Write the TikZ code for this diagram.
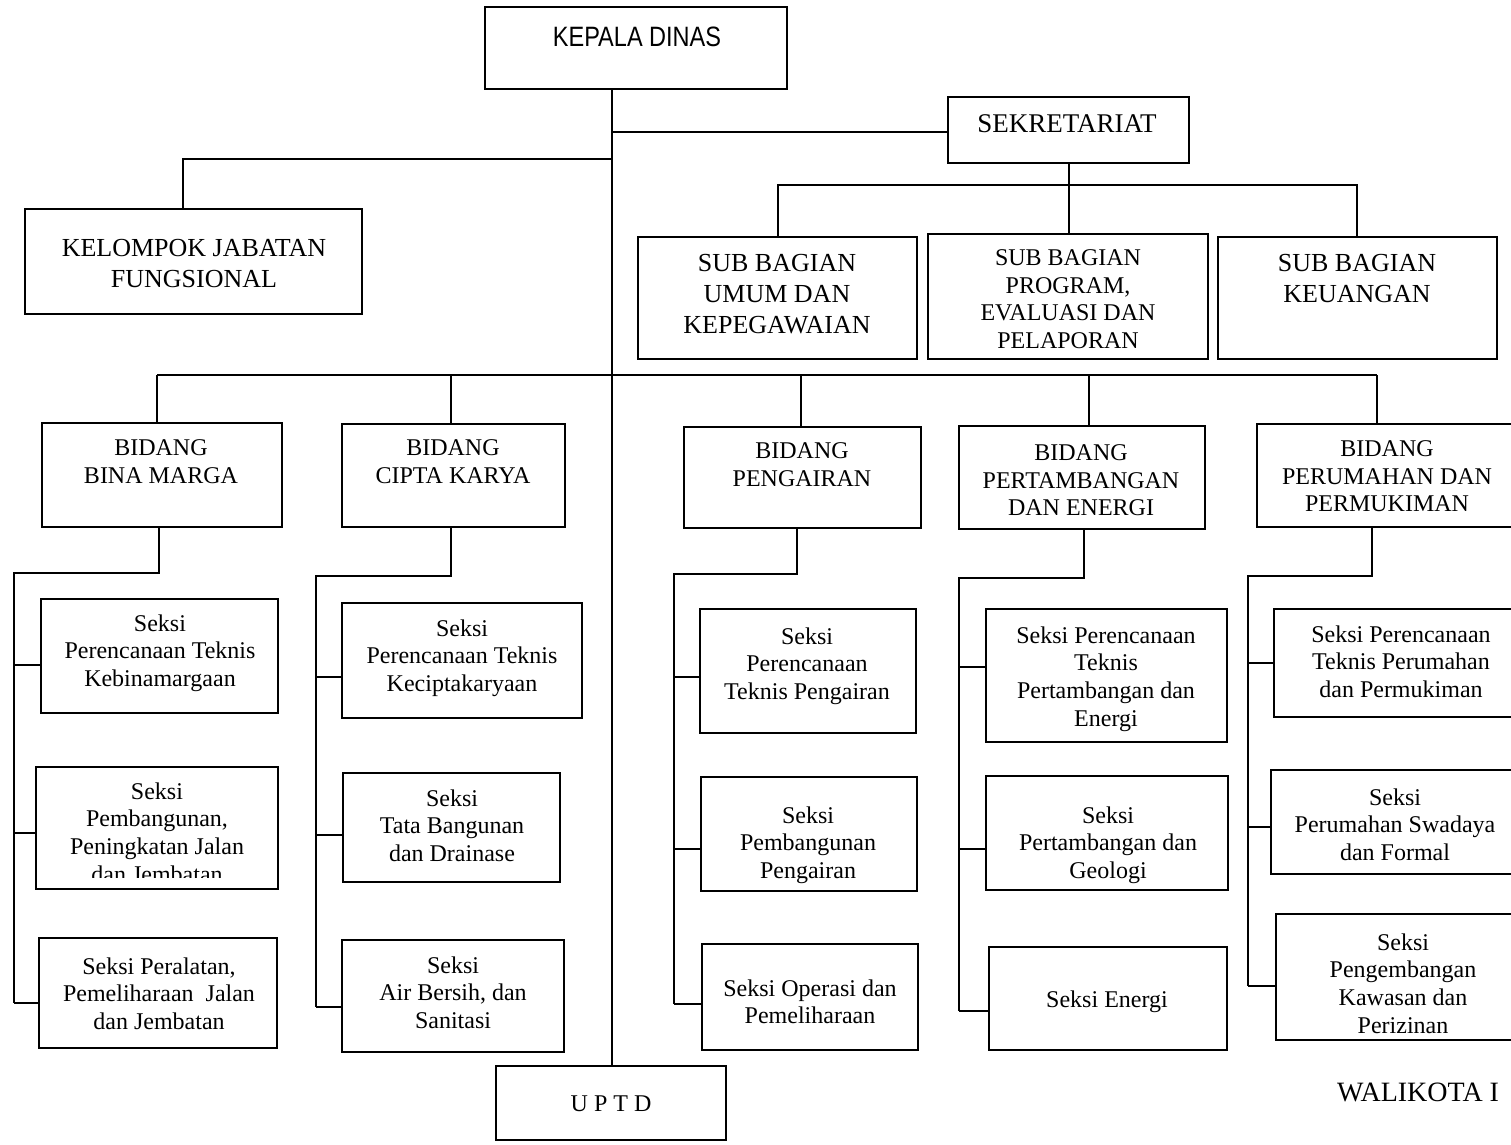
\documentclass[tikz,border=0pt]{standalone}
\usepackage{fontspec}
\usepackage{graphicx}
\setmainfont{Liberation Serif}
\newfontfamily\kdsans{Liberation Sans}
\newcommand\bx[5]{\node[obox, minimum width={#4-#2}, minimum height={#5-#3}] (#1) at ({(#2+#4)/2},{(#3+#5)/2}) {};}
\newcommand\tx[5]{\node[#2] (#1) at (#3,{#4-8.5}) {#5};}
\begin{document}
\begin{tikzpicture}[x=1pt,y=-1pt,
  obox/.style={draw, line width=1.9pt, inner sep=0pt, outer sep=0pt},
  conn/.style={line width=1.7pt},
  tA/.style={anchor=north, align=center, inner sep=0pt, font=\fontsize{24}{27.6}\selectfont},
  tB/.style={anchor=north, align=center, inner sep=0pt, font=\fontsize{26}{30.8}\selectfont},
  tC/.style={anchor=north, align=center, inner sep=0pt, font=\fontsize{27}{31}\selectfont}]
\useasboundingbox (0,0) rectangle (1511,1144);

% ---------- top level ----------
\bx{kepala}{485}{7}{787}{89}
\node[anchor=north, inner sep=0pt, font=\kdsans\fontsize{28}{32}\selectfont] (kepalat) at (637,27) {\scalebox{0.84}[1]{KEPALA DINAS}};

\bx{sek}{948}{97}{1189}{163}
\tx{sekt}{tC}{1067}{123}{SEKRETARIAT}

\bx{kel}{25}{209}{362}{314}
\tx{kelt}{tB}{194}{248}{KELOMPOK JABATAN\\FUNGSIONAL}

\bx{sb1}{638}{237}{917}{359}
\tx{sb1t}{tB}{777}{263}{SUB BAGIAN\\UMUM DAN\\KEPEGAWAIAN}
\bx{sb2}{928}{234}{1208}{359}
\tx{sb2t}{tA}{1068}{258}{SUB BAGIAN\\PROGRAM,\\EVALUASI DAN\\PELAPORAN}
\bx{sb3}{1218}{237}{1497}{359}
\tx{sb3t}{tB}{1357}{263}{SUB BAGIAN\\KEUANGAN}

% ---------- bidang ----------
\bx{b1}{42}{423}{282}{527}
\tx{b1t}{tA}{161}{448}{BIDANG\\BINA MARGA}
\bx{b2}{342}{424}{565}{527}
\tx{b2t}{tA}{453}{448}{BIDANG\\CIPTA KARYA}
\bx{b3}{684}{427}{921}{528}
\tx{b3t}{tA}{802}{451}{BIDANG\\PENGAIRAN}
\bx{b4}{959}{426}{1205}{529}
\tx{b4t}{tA}{1081}{453}{BIDANG\\PERTAMBANGAN\\DAN ENERGI}
\bx{b5}{1257}{424}{1520}{527}
\tx{b5t}{tA}{1387}{449}{BIDANG\\PERUMAHAN DAN\\PERMUKIMAN}

% ---------- seksi column 1 ----------
\bx{s11}{41}{599}{278}{713}
\tx{s11t}{tA}{160}{623}{Seksi\\Perencanaan Teknis\\Kebinamargaan}
\bx{s12}{36}{767}{278}{889}
\begin{scope}
\clip (36,767) rectangle (278,877);
\tx{s12t}{tA}{157}{791}{Seksi\\Pembangunan,\\Peningkatan Jalan\\dan Jembatan}
\end{scope}
\bx{s13}{39}{938}{277}{1048}
\tx{s13t}{tA}{159}{966}{Seksi Peralatan,\\Pemeliharaan\ \ Jalan\\dan Jembatan}

% ---------- seksi column 2 ----------
\bx{s21}{342}{603}{582}{718}
\tx{s21t}{tA}{462}{628}{Seksi\\Perencanaan Teknis\\Keciptakaryaan}
\bx{s22}{343}{773}{560}{882}
\tx{s22t}{tA}{452}{798}{Seksi\\Tata Bangunan\\dan Drainase}
\bx{s23}{342}{940}{564}{1052}
\tx{s23t}{tA}{453}{965}{Seksi\\Air Bersih, dan\\Sanitasi}

% ---------- seksi column 3 ----------
\bx{s31}{700}{609}{916}{733}
\tx{s31t}{tA}{807}{636}{Seksi\\Perencanaan\\Teknis Pengairan}
\bx{s32}{701}{777}{917}{891}
\tx{s32t}{tA}{808}{815}{Seksi\\Pembangunan\\Pengairan}
\bx{s33}{702}{944}{918}{1050}
\tx{s33t}{tA}{810}{988}{Seksi Operasi dan\\Pemeliharaan}

% ---------- seksi column 4 ----------
\bx{s41}{986}{609}{1227}{742}
\tx{s41t}{tA}{1106}{635}{Seksi Perencanaan\\Teknis\\Pertambangan dan\\Energi}
\bx{s42}{986}{776}{1228}{890}
\tx{s42t}{tA}{1108}{815}{Seksi\\Pertambangan dan\\Geologi}
\bx{s43}{989}{947}{1227}{1050}
\tx{s43t}{tA}{1107}{999}{Seksi Energi}

% ---------- seksi column 5 ----------
\bx{s51}{1274}{609}{1530}{717}
\tx{s51t}{tA}{1401}{634}{Seksi Perencanaan\\Teknis Perumahan\\dan Permukiman}
\bx{s52}{1271}{770}{1530}{874}
\tx{s52t}{tA}{1395}{797}{Seksi\\Perumahan Swadaya\\dan Formal}
\bx{s53}{1276}{914}{1530}{1040}
\tx{s53t}{tA}{1403}{942}{Seksi\\Pengembangan\\Kawasan dan\\Perizinan}

% ---------- UPTD ----------
\bx{uptd}{496}{1066}{726}{1140}
\tx{uptdt}{tA}{611}{1104}{U P T D}

% ---------- WALIKOTA ----------
\node[anchor=north west, inner sep=0pt, font=\fontsize{28}{32}\selectfont] (wali) at (1337,1083) {WALIKOTA I};

% ---------- connectors: top ----------
\coordinate (ml) at (612,89);
\draw[conn] (ml) -- (ml |- uptd.north);
\coordinate (jsek) at (612,132);
\draw[conn] (jsek) -- (jsek -| sek.west);
\coordinate (jkel) at (183,159);
\draw[conn] (jkel -| ml) -- (jkel) -- (jkel |- kel.north);
\coordinate (sbar) at (1069,185);
\draw[conn] (sbar |- sek.south) -- (sbar |- sb2.north);
\coordinate (sbl) at (778,185);
\coordinate (sbr) at (1357,185);
\draw[conn] (sbl |- sb1.north) -- (sbl) -- (sbr) -- (sbr |- sb3.north);

% ---------- bidang bar ----------
\coordinate (d1) at (157,375);
\coordinate (d2) at (451,375);
\coordinate (d3) at (801,375);
\coordinate (d4) at (1089,375);
\coordinate (d5) at (1377,375);
\draw[conn] (d1) -- (d5);
\draw[conn] (d1) -- (d1 |- b1.north);
\draw[conn] (d2) -- (d2 |- b2.north);
\draw[conn] (d3) -- (d3 |- b3.north);
\draw[conn] (d4) -- (d4 |- b4.north);
\draw[conn] (d5) -- (d5 |- b5.north);

% ---------- column 1 ----------
\coordinate (k1) at (159,573);
\coordinate (v1) at (14,573);
\coordinate (j11) at (14,665);
\coordinate (j12) at (14,833);
\coordinate (j13) at (14,1003);
\draw[conn] (k1 |- b1.south) -- (k1) -- (v1) -- (j13);
\draw[conn] (j11) -- (j11 -| s11.west);
\draw[conn] (j12) -- (j12 -| s12.west);
\draw[conn] (j13) -- (j13 -| s13.west);

% ---------- column 2 ----------
\coordinate (k2) at (451,576);
\coordinate (v2) at (316,576);
\coordinate (j21) at (316,677);
\coordinate (j22) at (316,835);
\coordinate (j23) at (316,1007);
\draw[conn] (k2 |- b2.south) -- (k2) -- (v2) -- (j23);
\draw[conn] (j21) -- (j21 -| s21.west);
\draw[conn] (j22) -- (j22 -| s22.west);
\draw[conn] (j23) -- (j23 -| s23.west);

% ---------- column 3 ----------
\coordinate (k3) at (797,574);
\coordinate (v3) at (674,574);
\coordinate (j31) at (674,677);
\coordinate (j32) at (674,849);
\coordinate (j33) at (674,1004);
\draw[conn] (k3 |- b3.south) -- (k3) -- (v3) -- (j33);
\draw[conn] (j31) -- (j31 -| s31.west);
\draw[conn] (j32) -- (j32 -| s32.west);
\draw[conn] (j33) -- (j33 -| s33.west);

% ---------- column 4 ----------
\coordinate (k4) at (1084,578);
\coordinate (v4) at (959,578);
\coordinate (j41) at (959,667);
\coordinate (j42) at (959,849);
\coordinate (j43) at (959,1011);
\draw[conn] (k4 |- b4.south) -- (k4) -- (v4) -- (j43);
\draw[conn] (j41) -- (j41 -| s41.west);
\draw[conn] (j42) -- (j42 -| s42.west);
\draw[conn] (j43) -- (j43 -| s43.west);

% ---------- column 5 ----------
\coordinate (k5) at (1372,576);
\coordinate (v5) at (1248,576);
\coordinate (j51) at (1248,663);
\coordinate (j52) at (1248,827);
\coordinate (j53) at (1248,986);
\draw[conn] (k5 |- b5.south) -- (k5) -- (v5) -- (j53);
\draw[conn] (j51) -- (j51 -| s51.west);
\draw[conn] (j52) -- (j52 -| s52.west);
\draw[conn] (j53) -- (j53 -| s53.west);
\end{tikzpicture}
\end{document}
